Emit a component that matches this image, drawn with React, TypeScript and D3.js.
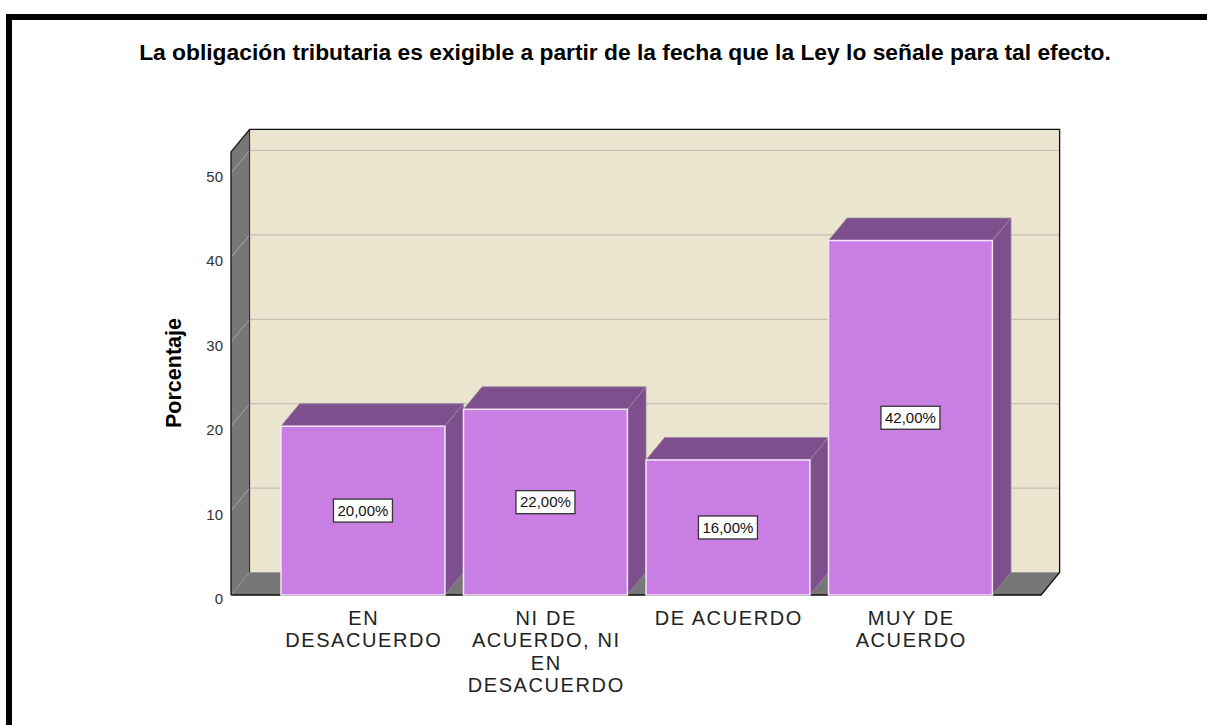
import React from "react";
import * as d3 from "d3";

const title = "La obligación tributaria es exigible a partir de la fecha que la Ley lo señale para tal efecto.";
const categories = ["EN DESACUERDO", "NI DE ACUERDO, NI EN DESACUERDO", "DE ACUERDO", "MUY DE ACUERDO"];
const categoryLines = [["EN", "DESACUERDO"], ["NI DE", "ACUERDO, NI", "EN", "DESACUERDO"], ["DE ACUERDO"], ["MUY DE", "ACUERDO"]];
const values = [20, 22, 16, 42];
const valueLabels = ["20,00%", "22,00%", "16,00%", "42,00%"];
const yTicks = [0, 10, 20, 30, 40, 50];
const yTitle = "Porcentaje";

const W = 1207, H = 725;
const DX = 18.6, DY = -22.5;
const FRONT_LEFT = 231, FRONT_RIGHT = 1041;
const FONT = "'Liberation Sans', Arial, sans-serif";

export default function App() {
  const y = d3.scaleLinear().domain([0, 50]).range([595, 173]);
  const x = d3.scaleBand<string>().domain(categories).range([281, 281 + 182.5 * 4]).paddingInner(0).paddingOuter(0);
  const yTop = y(52.5);
  const yBase = y(0);
  const barW = x.bandwidth() - DX;
  const pts = (a: [number, number][]) => a.map((p) => p.join(",")).join(" ");

  return (
    <svg width={W} height={H} style={{ position: "absolute", left: 0, top: 0, display: "block", background: "#fff" }} fontFamily={FONT}>
      {/* frame */}
      <rect x={6} y={14} width={W} height={6} fill="#000" />
      <rect x={6} y={14} width={6} height={H} fill="#000" />
      <text x={625} y={59.5} textAnchor="middle" fontSize={22.8} fontWeight="bold" fill="#000">{title}</text>

      {/* back wall */}
      <rect x={FRONT_LEFT + DX} y={yTop + DY} width={FRONT_RIGHT - FRONT_LEFT} height={yBase - yTop} fill="#ebe4cf" />
      {/* left wall */}
      <polygon points={pts([[FRONT_LEFT, yBase], [FRONT_LEFT, yTop], [FRONT_LEFT + DX, yTop + DY], [FRONT_LEFT + DX, yBase + DY]])} fill="#777777" />
      {/* gridlines */}
      {yTicks.map((t) => (
        <g key={t}>
          <line x1={FRONT_LEFT} y1={y(t)} x2={FRONT_LEFT + DX} y2={y(t) + DY} stroke="#a8a8a8" strokeWidth={1} />
          <line x1={FRONT_LEFT + DX} y1={y(t) + DY} x2={FRONT_RIGHT + DX} y2={y(t) + DY} stroke="#c4c0b4" strokeWidth={1.2} />
        </g>
      ))}
      {/* floor */}
      <polygon points={pts([[FRONT_LEFT, yBase], [FRONT_RIGHT, yBase], [FRONT_RIGHT + DX, yBase + DY], [FRONT_LEFT + DX, yBase + DY]])} fill="#777777" />
      {/* outlines */}
      <polyline points={pts([[FRONT_LEFT, yBase], [FRONT_LEFT, yTop], [FRONT_LEFT + DX, yTop + DY], [FRONT_RIGHT + DX, yTop + DY], [FRONT_RIGHT + DX, yBase + DY], [FRONT_RIGHT, yBase], [FRONT_LEFT, yBase]])} fill="none" stroke="#111" strokeWidth={1.3} />
      <line x1={FRONT_LEFT + DX} y1={yTop + DY} x2={FRONT_LEFT + DX} y2={yBase + DY} stroke="#222" strokeWidth={1} />

      {/* bars */}
      {categories.map((c, i) => {
        const x0 = x(c)!;
        const x1 = x0 + barW;
        const yt = y(values[i]);
        return (
          <g key={c}>
            <polygon points={pts([[x0, yt], [x1, yt], [x1 + DX, yt + DY], [x0 + DX, yt + DY]])} fill="#7d4f8d" stroke="#9a8aa0" strokeWidth={0.8} />
            <polygon points={pts([[x1, yt], [x1 + DX, yt + DY], [x1 + DX, yBase + DY], [x1, yBase]])} fill="#7d4f8d" stroke="#9a8aa0" strokeWidth={0.8} />
            <rect x={x0} y={yt} width={barW} height={yBase - yt} fill="#c97ee3" stroke="#f3e4f8" strokeWidth={1.5} />
          </g>
        );
      })}

      {/* value labels */}
      {categories.map((c, i) => {
        const cx = x(c)! + barW / 2;
        const cy = y(values[i] / 2);
        return (
          <g key={"l" + c}>
            <rect x={cx - 29.5} y={cy - 11.5} width={59} height={23} fill="#fff" stroke="#333" strokeWidth={1.3} />
            <text x={cx} y={cy + 5.3} textAnchor="middle" fontSize={15} fill="#111">{valueLabels[i]}</text>
          </g>
        );
      })}

      {/* y ticks */}
      {yTicks.map((t) => (
        <text key={"t" + t} x={223} y={y(t) + 9} textAnchor="end" fontSize={15} fill="#333">{t}</text>
      ))}
      <text transform={`translate(181,373) rotate(-90)`} textAnchor="middle" fontSize={21.5} fontWeight="bold" fill="#000">{yTitle}</text>

      {/* category labels */}
      {categories.map((c, i) => {
        const cx = x(c)! + barW / 2 + 0.8;
        return (
          <text key={"c" + c} textAnchor="middle" fontSize={20} letterSpacing={1.6} fill="#222">
            {categoryLines[i].map((ln, j) => (
              <tspan key={j} x={cx} y={625 + j * 22.3}>{ln}</tspan>
            ))}
          </text>
        );
      })}
    </svg>
  );
}
